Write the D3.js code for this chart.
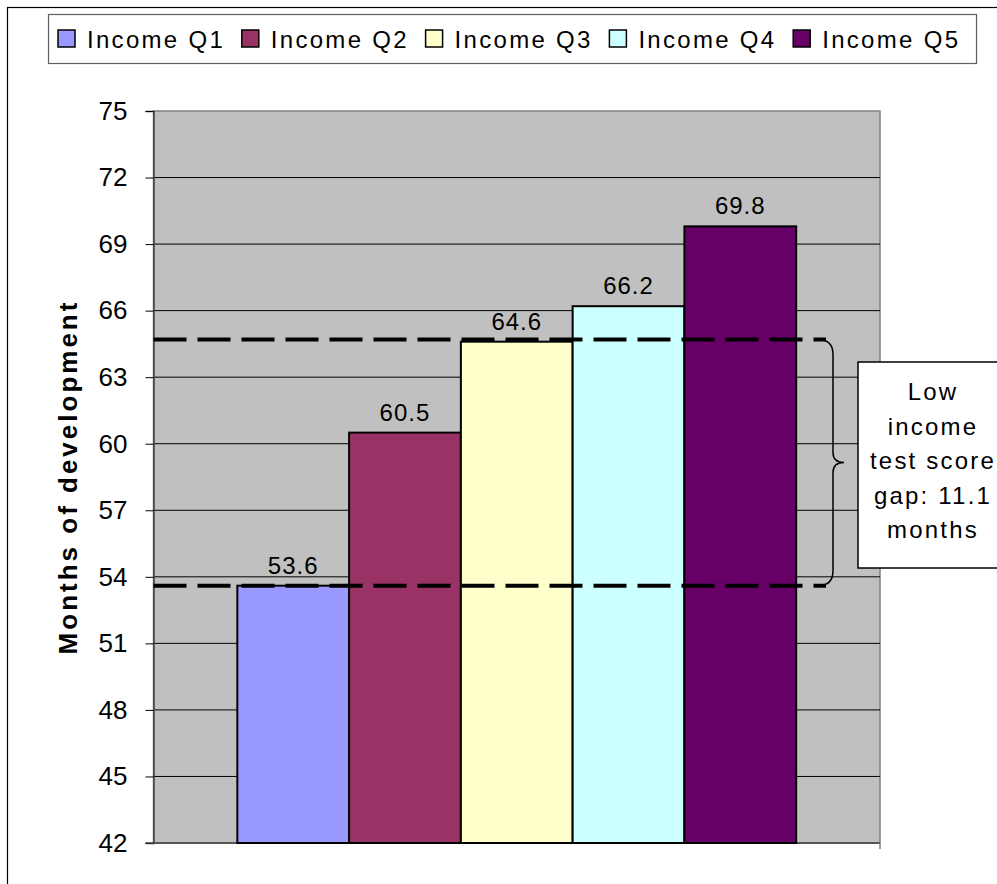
<!DOCTYPE html>
<html>
<head>
<meta charset="utf-8">
<script src="https://cdn.jsdelivr.net/npm/d3@7"></script>
<style>
  body { margin: 0; background: #fff; overflow: hidden; }
  svg { display: block; font-family: "Liberation Sans", Arial, sans-serif; }
</style>
</head>
<body>
<svg id="chart" width="997" height="884"></svg>
<script>
const series = ["Income Q1", "Income Q2", "Income Q3", "Income Q4", "Income Q5"]
const values = [53.6, 60.5, 64.6, 66.2, 69.8]
const colors = ["#9999FF", "#993366", "#FFFFCC", "#CCFFFF", "#660066"]
const yTicks = [42, 45, 48, 51, 54, 57, 60, 63, 66, 69, 72, 75]
const gapRange = [53.6, 64.7]
const gapText = ["Low", "income", "test score", "gap: 11.1", "months"]
const yTitle = "Months of development"

const svg = d3.select("#chart")
const plot = {left: 153.5, right: 880, top: 111, bottom: 843}

// outer chart border (runs off the page on right/bottom)
svg.append("rect")
    .attr("x", 7.5).attr("y", 7.5)
    .attr("width", 1020).attr("height", 900)
    .attr("fill", "none").attr("stroke", "#000").attr("stroke-width", 1.2)

const y = d3.scaleLinear().domain([42, 75]).range([plot.bottom, plot.top])

const x0 = d3.scaleBand().domain(["all"]).range([plot.left, plot.right])
const x1 = d3.scaleBand().domain(series)
    .range([0, x0.bandwidth()])
    .paddingInner(0).paddingOuter(0.75)

// plot background
svg.append("rect")
    .attr("x", plot.left).attr("y", plot.top)
    .attr("width", plot.right - plot.left).attr("height", plot.bottom - plot.top)
    .attr("fill", "#C0C0C0").attr("stroke", "#808080").attr("stroke-width", 1.5)

// gridlines
svg.append("g").selectAll("line")
    .data(yTicks.slice(1, -1))
    .join("line")
    .attr("x1", plot.left).attr("x2", plot.right)
    .attr("y1", d => y(d)).attr("y2", d => y(d))
    .attr("stroke", "#000").attr("stroke-width", 1)

// y axis
const yAxis = svg.append("g")
    .attr("transform", `translate(${plot.left},0)`)
    .call(d3.axisLeft(y).tickValues(yTicks).tickSize(8).tickPadding(18).tickFormat(d3.format("d")))
yAxis.select(".domain").attr("stroke", "#404040").attr("stroke-width", 1.5)
yAxis.selectAll(".tick line").attr("stroke", "#000")
yAxis.selectAll(".tick text")
    .attr("font-size", 26).attr("fill", "#000")
    .attr("font-family", "Liberation Sans, Arial, sans-serif")

// bottom axis line
svg.append("line")
    .attr("x1", plot.left - 8).attr("x2", plot.right)
    .attr("y1", plot.bottom).attr("y2", plot.bottom)
    .attr("stroke", "#404040").attr("stroke-width", 1.5)
svg.append("line")
    .attr("x1", plot.right).attr("x2", plot.right)
    .attr("y1", plot.bottom).attr("y2", plot.bottom + 6)
    .attr("stroke", "#808080").attr("stroke-width", 1.5)

// bars
const bars = svg.append("g")
series.forEach((s, i) => {
    bars.append("rect")
        .attr("x", x0("all") + x1(s))
        .attr("y", y(values[i]))
        .attr("width", x1.bandwidth())
        .attr("height", y(42) - y(values[i]))
        .attr("fill", colors[i])
        .attr("stroke", "#000").attr("stroke-width", 2)
    bars.append("text")
        .attr("x", x0("all") + x1(s) + x1.bandwidth() / 2)
        .attr("y", y(values[i]) - 12)
        .attr("text-anchor", "middle")
        .attr("font-size", 24).attr("letter-spacing", 1)
        .text(values[i].toFixed(1))
})

// dashed reference lines
const dashEnd = plot.right - 54
svg.append("g").selectAll("line")
    .data(gapRange)
    .join("line")
    .attr("x1", plot.left).attr("x2", dashEnd)
    .attr("y1", d => y(d)).attr("y2", d => y(d))
    .attr("stroke", "#000").attr("stroke-width", 4)
    .attr("stroke-dasharray", "33,11")

// brace
const bt = y(gapRange[1]), bb = y(gapRange[0]), bm = (bt + bb) / 2
const bx = dashEnd - 8
const bv = bx + 15, btip = bx + 26
const brace = d3.path()
brace.moveTo(bx, bt)
brace.quadraticCurveTo(bv, bt, bv, bt + 15)
brace.lineTo(bv, bm - 10)
brace.quadraticCurveTo(bv, bm, btip, bm)
brace.quadraticCurveTo(bv, bm, bv, bm + 10)
brace.lineTo(bv, bb - 15)
brace.quadraticCurveTo(bv, bb, bx, bb)
svg.append("path").attr("d", brace.toString())
    .attr("fill", "none").attr("stroke", "#000").attr("stroke-width", 1.5)

// annotation box (right side runs off the page)
const boxX = 858, boxY = 362, boxW = 200, boxH = 206
svg.append("rect")
    .attr("x", boxX).attr("y", boxY).attr("width", boxW).attr("height", boxH)
    .attr("fill", "#fff").attr("stroke", "#000").attr("stroke-width", 1.5)
svg.append("g").selectAll("text")
    .data(gapText)
    .join("text")
    .attr("x", 933)
    .attr("y", (d, i) => boxY + 38 + i * 34.5)
    .attr("text-anchor", "middle")
    .attr("font-size", 24).attr("letter-spacing", 2.2)
    .text(d => d)

// y title
svg.append("text")
    .attr("transform", `translate(77,${(plot.top + plot.bottom) / 2}) rotate(-90)`)
    .attr("text-anchor", "middle")
    .attr("font-size", 26).attr("font-weight", "bold").attr("letter-spacing", 3)
    .text(yTitle)

// legend
svg.append("rect")
    .attr("x", 48.5).attr("y", 14.5).attr("width", 928).attr("height", 49)
    .attr("fill", "#fff").attr("stroke", "#606060").attr("stroke-width", 1.2)
const lx = d3.scaleBand().domain(series).range([58, 58 + 5 * 183.8])
const leg = svg.append("g").selectAll("g")
    .data(series)
    .join("g")
    .attr("transform", d => `translate(${lx(d)},30)`)
leg.append("rect")
    .attr("width", 17).attr("height", 17)
    .attr("fill", (d, i) => colors[i])
    .attr("stroke", "#000").attr("stroke-width", 1.5)
leg.append("text")
    .attr("x", 29).attr("y", 18)
    .attr("font-size", 24).attr("letter-spacing", 2.3)
    .text(d => d)
</script>
</body>
</html>
